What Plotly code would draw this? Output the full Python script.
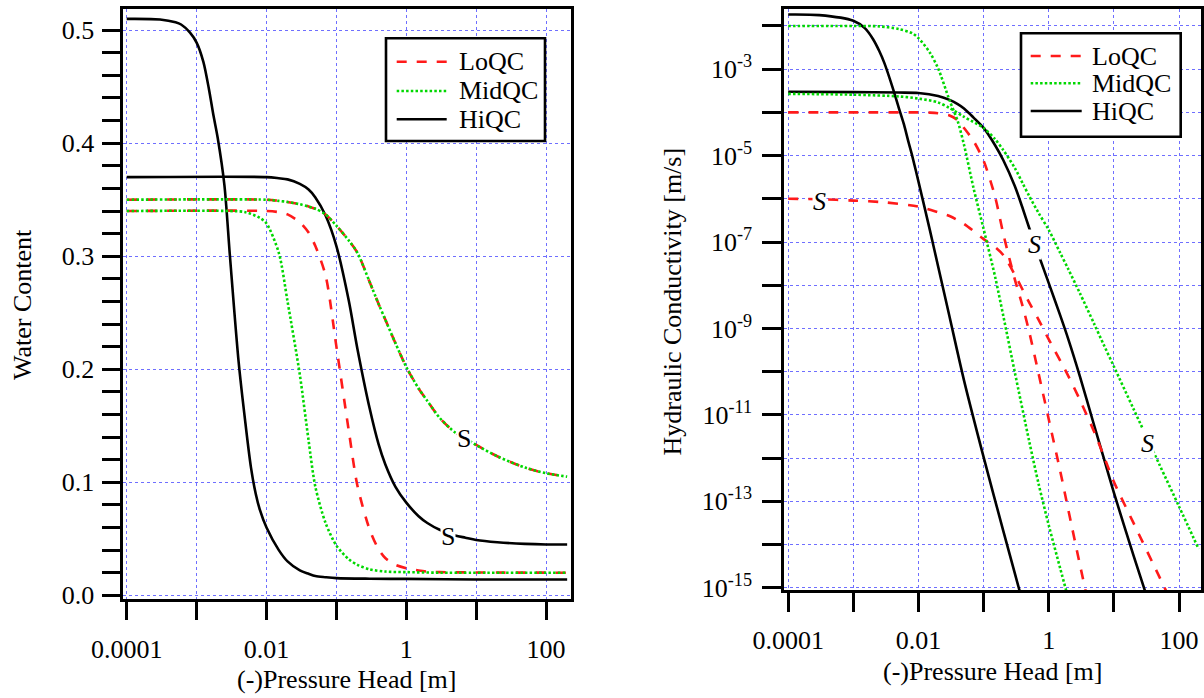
import plotly.graph_objects as go

FONT = "Liberation Serif, Times New Roman, serif"
RED = "#ff1a1a"
GREEN = "#00d800"
BLACK = "#000000"
GRID = "#6f6fff"

# ---------------- Water content (left panel) ----------------
h_hiqc_sand = [1e-4, 3e-4, 5e-4, 6e-4, 8e-4, 1e-3, 1.25e-3, 1.5e-3, 1.75e-3, 2e-3, 2.5e-3, 3e-3, 4e-3,
               5e-3, 6e-3, 7e-3, 8e-3, 1e-2, 1.5e-2, 2e-2, 3e-2, 4e-2, 5e-2, 7e-2, 0.1, 0.3, 1, 10, 200]
wc_hiqc_sand = [0.510, 0.5095, 0.507, 0.505, 0.498, 0.489, 0.472, 0.448, 0.424, 0.405, 0.363, 0.300, 0.206,
                0.152, 0.113, 0.090, 0.076, 0.060, 0.040, 0.030, 0.022, 0.019, 0.017, 0.016, 0.0152, 0.0147,
                0.0145, 0.014, 0.014]

h_midqc_sand = [1e-4, 3e-3, 5e-3, 8e-3, 1e-2, 1.5e-2, 2e-2, 3e-2, 4e-2, 5e-2, 7e-2, 0.1,
                0.15, 0.2, 0.3, 0.5, 1, 3, 200]
wc_midqc_sand = [0.340, 0.340, 0.339, 0.334, 0.329, 0.303, 0.260, 0.195, 0.137, 0.096, 0.064, 0.044,
                 0.032, 0.027, 0.023, 0.021, 0.0205, 0.020, 0.020]

h_loqc_sand = [1e-4, 1e-2, 1.5e-2, 2e-2, 3e-2, 4e-2, 5e-2, 7e-2, 0.1, 0.15, 0.2, 0.3, 0.4,
               0.5, 0.7, 1, 1.5, 2, 3, 200]
wc_loqc_sand = [0.340, 0.340, 0.339, 0.337, 0.330, 0.321, 0.309, 0.283, 0.220, 0.146, 0.097, 0.058, 0.041,
                0.033, 0.027, 0.024, 0.022, 0.021, 0.0205, 0.020]

h_silt = [1e-4, 1e-2, 1.5e-2, 2e-2, 3e-2, 4e-2, 5e-2, 7e-2, 0.1, 0.15, 0.2, 0.3, 0.4, 0.5,
          0.7, 1, 1.5, 2, 3, 5, 7, 10, 20, 50, 100, 200]
wc_hiqc_silt = [0.370, 0.370, 0.369, 0.368, 0.364, 0.359, 0.352, 0.336, 0.309, 0.261, 0.218, 0.165, 0.134, 0.116,
                0.096, 0.082, 0.070, 0.064, 0.058, 0.053, 0.051, 0.049, 0.047, 0.0455, 0.045, 0.045]
wc_lomid_silt = [0.350, 0.350, 0.349, 0.348, 0.346, 0.344, 0.342, 0.337, 0.327, 0.314, 0.303, 0.277, 0.258, 0.244,
                 0.223, 0.202, 0.183, 0.172, 0.157, 0.144, 0.139, 0.133, 0.123, 0.113, 0.108, 0.105]

# ---------------- Hydraulic conductivity (right panel) ----------------
h_k_hiqc_sand = [1e-4, 3e-4, 1e-3, 1.5e-3, 2e-3, 2.5e-3, 3e-3, 4e-3, 5e-3, 6e-3, 7e-3, 8e-3,
                 1e-2, 1.5e-2, 2e-2, 3e-2, 5e-2, 0.1, 0.2, 0.4]
k_hiqc_sand = [1.84e-2, 1.78e-2, 1.32e-2, 8.9e-3, 5.0e-3, 2.63e-3, 1.38e-3, 3.8e-4, 1.26e-4, 5.2e-5, 2.1e-5, 1.0e-5,
               2.5e-6, 1.86e-7, 2.75e-8, 1.86e-9, 6.3e-11, 1.05e-12, 2.1e-14, 4.5e-16]

h_k_midqc_sand = [1e-4, 1e-3, 2.5e-3, 5e-3, 8e-3, 1e-2, 1.5e-2, 2e-2, 3e-2, 4e-2, 5e-2, 7e-2,
                  0.1, 0.15, 0.2, 0.3, 0.5, 0.7, 1, 1.5, 2]
k_midqc_sand = [1.0e-2, 1.0e-2, 9.8e-3, 8.5e-3, 6.8e-3, 5.25e-3, 2.4e-3, 1.05e-3, 1.9e-4, 6.3e-5, 1.78e-5, 1.78e-6,
                2.0e-7, 1.58e-8, 2.0e-9, 1.0e-10, 2.5e-12, 2.5e-13, 2.8e-14, 2.8e-15, 5.6e-16]

h_k_loqc_sand = [1e-4, 1e-2, 1.5e-2, 2e-2, 3e-2, 4e-2, 5e-2, 7e-2, 0.1, 0.15, 0.2, 0.3,
                 0.4, 0.5, 0.7, 1, 1.5, 2, 3, 5]
k_loqc_sand = [1.0e-4, 1.0e-4, 9.9e-5, 9.55e-5, 8.5e-5, 6.6e-5, 4.37e-5, 2.19e-5, 7.6e-6, 1.12e-6, 1.58e-7, 1.41e-8,
               3.16e-9, 8.5e-10, 8.9e-11, 7.9e-12, 5.0e-13, 6.3e-14, 3.5e-15, 1.0e-16]

h_k_hiqc_silt = [1e-4, 1e-3, 5e-3, 1e-2, 2e-2, 3e-2, 4e-2, 5e-2, 7e-2, 0.1, 0.15, 0.2, 0.3,
                 0.4, 0.5, 0.7, 1, 1.5, 2, 3, 5, 7, 10, 20, 50]
k_hiqc_silt = [3.0e-4, 2.95e-4, 2.88e-4, 2.82e-4, 2.40e-4, 1.95e-4, 1.55e-4, 1.23e-4, 7.6e-5, 4.37e-5, 1.74e-5, 7.9e-6, 2.0e-6,
               5.9e-7, 2.14e-7, 5.0e-8, 1.12e-8, 2.0e-9, 5.6e-10, 7.9e-11, 5.6e-12, 1.0e-12, 1.58e-13, 5.6e-15, 7.9e-17]

h_k_midqc_silt = [1e-4, 1e-3, 5e-3, 1e-2, 2e-2, 3e-2, 5e-2, 0.1, 0.15, 0.2, 0.3, 0.4, 0.5,
                  0.7, 1, 1.5, 2, 3, 5, 7, 10, 20, 50, 100, 200]
k_midqc_silt = [2.69e-4, 2.57e-4, 2.34e-4, 2.09e-4, 1.70e-4, 1.26e-4, 7.9e-5, 4.37e-5, 2.4e-5, 1.35e-5, 5.25e-6, 2.24e-6, 1.17e-6,
                4.68e-7, 1.91e-7, 5.6e-8, 2.34e-8, 6.6e-9, 1.26e-9, 4.17e-10, 1.32e-10, 1.38e-11, 7.1e-13, 7.6e-14, 7.9e-15]

h_k_loqc_silt = [1e-4, 3e-4, 1e-3, 3e-3, 1e-2, 2e-2, 3e-2, 5e-2, 0.1, 0.15, 0.2, 0.3,
                 0.5, 0.7, 1, 2, 3, 5, 7, 10, 20, 50, 100]
k_loqc_silt = [1.0e-6, 9.8e-7, 9.1e-7, 8.3e-7, 6.6e-7, 4.9e-7, 4.0e-7, 2.63e-7, 1.17e-7, 7.6e-8, 5.0e-8, 1.78e-8,
               4.0e-9, 1.58e-9, 5.6e-10, 7.9e-11, 2.24e-11, 4.0e-12, 1.12e-12, 2.82e-13, 3.16e-14, 1.78e-15, 2.0e-16]

# ---------------- ticks / labels ----------------
x_major_vals = [1e-4, 1e-2, 1, 100]
x_major_text = ["0.0001", "0.01", "1", "100"]
x_minor_vals = [1e-3, 1e-1, 10]
k_major_vals = [1e-15, 1e-13, 1e-11, 1e-9, 1e-7, 1e-5, 1e-3]
k_major_text = ["10<sup>-15</sup>", "10<sup>-13</sup>", "10<sup>-11</sup>", "10<sup>-9</sup>",
                "10<sup>-7</sup>", "10<sup>-5</sup>", "10<sup>-3</sup>"]
k_minor_vals = [1e-14, 1e-12, 1e-10, 1e-8, 1e-6, 1e-4, 1e-2]
legend_names = ["LoQC", "MidQC", "HiQC"]

RED_DASH = "10px,10px"
GREEN_DOT = "2.5px,2.2px"
LW = 2.6

fig = go.Figure()


def add(x, y, color, dash, name, xa, ya):
    fig.add_trace(go.Scatter(
        x=x, y=y, mode="lines", name=name, showlegend=False,
        line=dict(color=color, width=LW, dash=dash, shape="spline", smoothing=0.8),
        xaxis=xa, yaxis=ya, hoverinfo="skip"))


# left panel
add(h_hiqc_sand, wc_hiqc_sand, BLACK, "solid", "HiQC", "x", "y")
add(h_silt, wc_hiqc_silt, BLACK, "solid", "HiQC", "x", "y")
add(h_loqc_sand, wc_loqc_sand, RED, RED_DASH, "LoQC", "x", "y")
add(h_silt, wc_lomid_silt, RED, RED_DASH, "LoQC", "x", "y")
add(h_midqc_sand, wc_midqc_sand, GREEN, GREEN_DOT, "MidQC", "x", "y")
add(h_silt, wc_lomid_silt, GREEN, GREEN_DOT, "MidQC", "x", "y")

# right panel
add(h_k_hiqc_sand, k_hiqc_sand, BLACK, "solid", "HiQC", "x2", "y2")
add(h_k_hiqc_silt, k_hiqc_silt, BLACK, "solid", "HiQC", "x2", "y2")
add(h_k_loqc_sand, k_loqc_sand, RED, RED_DASH, "LoQC", "x2", "y2")
add(h_k_loqc_silt, k_loqc_silt, RED, RED_DASH, "LoQC", "x2", "y2")
add(h_k_midqc_sand, k_midqc_sand, GREEN, GREEN_DOT, "MidQC", "x2", "y2")
add(h_k_midqc_silt, k_midqc_silt, GREEN, GREEN_DOT, "MidQC", "x2", "y2")

W, H = 1204, 698
tickfont = dict(family=FONT, size=26, color="black")
common = dict(ticks="outside", ticklen=19, tickwidth=2.5, tickcolor="black",
              showline=True, linewidth=2.5, linecolor="black", mirror=True,
              showgrid=True, gridcolor=GRID, gridwidth=1, griddash="dot",
              zeroline=False, tickfont=tickfont, automargin=False)
minor_grid = dict(ticks="outside", ticklen=19, tickwidth=2.5, tickcolor="black",
                  showgrid=True, gridcolor=GRID, gridwidth=1, griddash="dot")

fig.update_layout(
    width=W, height=H, autosize=False,
    margin=dict(l=0, r=0, t=0, b=0, pad=0),
    paper_bgcolor="white", plot_bgcolor="white",
    showlegend=False,
    xaxis=dict(type="log", range=[-4.0486, 2.349], domain=[123.3 / W, 570.5 / W], anchor="y",
               tickmode="array", tickvals=x_major_vals, ticktext=x_major_text, ticklabelstandoff=6,
               minor=dict(tickmode="array", tickvals=x_minor_vals, **minor_grid), **common),
    yaxis=dict(range=[-0.003, 0.519], domain=[1 - 598.7 / H, 1 - 8.7 / H], anchor="x",
               tick0=0, dtick=0.1, tickformat=".1f", ticklabelstandoff=2,
               minor=dict(dtick=0.02, tick0=0, ticks="outside", ticklen=19, tickwidth=2.5,
                          tickcolor="black", showgrid=False), **common),
    xaxis2=dict(type="log", range=[-4.0645, 2.333], domain=[784.0 / W, 1200.7 / W], anchor="y2",
                tickmode="array", tickvals=x_major_vals, ticktext=x_major_text, ticklabelstandoff=6,
                minor=dict(tickmode="array", tickvals=x_minor_vals, **minor_grid), **common),
    yaxis2=dict(type="log", range=[-15.053, -1.614], domain=[1 - 590.0 / H, 1 - 9.3 / H], anchor="x2",
                tickmode="array", tickvals=k_major_vals, ticktext=k_major_text, ticklabelstandoff=5,
                minor=dict(tickmode="array", tickvals=k_minor_vals, **minor_grid), **common),
)

# axis titles
titles = [
    ("(-)Pressure Head [m]", 347.0, 679.0, 0),
    ("(-)Pressure Head [m]", 992.4, 671.0, 0),
    ("Water Content", 22.0, 305.0, -90),
    ("Hydraulic Conductivity [m/s]", 671.5, 302.0, -90),
]
for text, px, py, ang in titles:
    fig.add_annotation(text=text, x=px / W, y=1 - py / H, xref="paper", yref="paper",
                       showarrow=False, textangle=ang, xanchor="center", yanchor="middle",
                       font=dict(family=FONT, size=26, color="black"))

# "S" curve labels (placed on the curves)
fig.add_annotation(text="S", x=0.83, y=0.139, xref="x", yref="y", showarrow=False,
                   bgcolor="white", borderpad=0, font=dict(family=FONT, size=26, color="black"))
fig.add_annotation(text="S", x=0.60, y=0.052, xref="x", yref="y", showarrow=False,
                   bgcolor="white", borderpad=0, font=dict(family=FONT, size=26, color="black"))
for lx, ly in [(-3.52, -6.07), (-0.22, -7.06), (1.52, -11.66)]:
    fig.add_annotation(text="<i>S</i>", x=lx, y=ly, xref="x2", yref="y2", showarrow=False,
                       bgcolor="white", borderpad=0, font=dict(family=FONT, size=26, color="black"))

# legends (one per panel)
leg_styles = [(RED, RED_DASH), (GREEN, GREEN_DOT), (BLACK, "solid")]
legends = [
    dict(box=(386, 38.3, 545, 141), line=(396.7, 446.7), text_x=457.3, ys=(61.7, 91.0, 119.3)),
    dict(box=(1021, 33.3, 1180.7, 136.7), line=(1030.7, 1081.7), text_x=1090, ys=(56.0, 83.3, 111.0)),
]
for lg in legends:
    x0, y0, x1, y1 = lg["box"]
    fig.add_shape(type="rect", xref="paper", yref="paper", x0=x0 / W, x1=x1 / W,
                  y0=1 - y1 / H, y1=1 - y0 / H, line=dict(color="black", width=2.6),
                  fillcolor="white", layer="above")
    for (col, dsh), name, yy in zip(leg_styles, legend_names, lg["ys"]):
        fig.add_shape(type="line", xref="paper", yref="paper", x0=lg["line"][0] / W, x1=lg["line"][1] / W,
                      y0=1 - yy / H, y1=1 - yy / H, line=dict(color=col, width=LW, dash=dsh), layer="above")
        fig.add_annotation(text=name, x=lg["text_x"] / W, y=1 - yy / H, xref="paper", yref="paper",
                           showarrow=False, xanchor="left", yanchor="middle",
                           font=dict(family=FONT, size=26, color="black"))

fig.write_html("out.html", config={"displayModeBar": False},
               post_script="document.body.style.margin='0px';document.body.style.padding='0px';")
